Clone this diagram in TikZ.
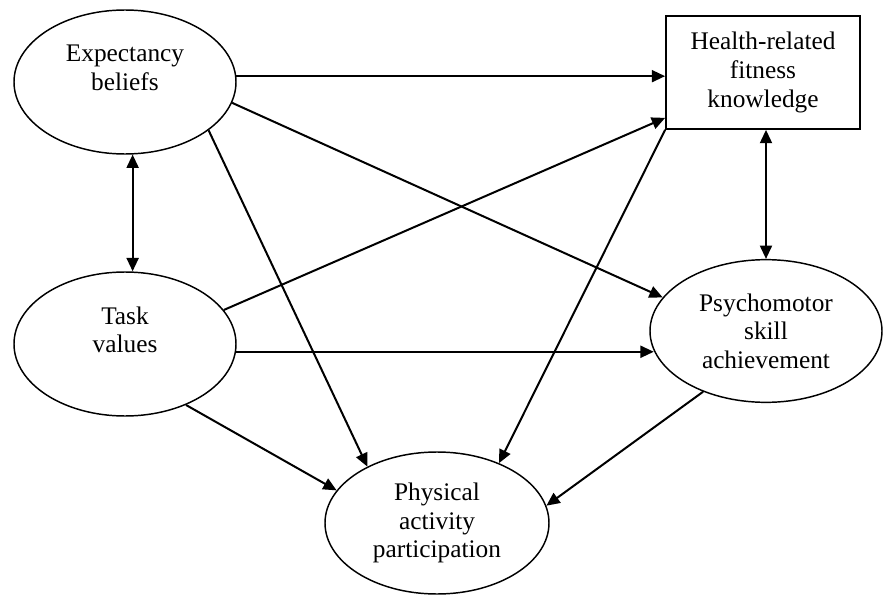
\documentclass[tikz,border=0pt]{standalone}
\usepackage{fontspec}
\setmainfont{Liberation Serif}
\usetikzlibrary{shapes.geometric,arrows.meta}

\begin{document}
\begin{tikzpicture}[x=0.75pt,y=-0.75pt,
  var/.style={ellipse,draw,line width=1.1pt,inner sep=0pt,align=center,
    font=\fontsize{19}{21.5}\selectfont},
  effect/.style={-{Triangle[length=10pt,width=9pt]},line width=1.5pt},
  mutual/.style={{Triangle[length=10pt,width=9pt]}-{Triangle[length=10pt,width=9pt]},line width=1.5pt}]
  \useasboundingbox (0,0) rectangle (883,596);

  \node[var,minimum width=166.5pt,minimum height=108pt] (expect) at (125,82)
    {Expectancy\\beliefs\\~};
  \node[var,minimum width=166.5pt,minimum height=108pt] (task) at (125,344)
    {Task\\values\\~};
  \node[rectangle,draw,line width=1.3pt,minimum width=145.5pt,minimum
  height=84.75pt,align=center,font=\fontsize{19}{21.5}\selectfont] (health) at (763,72.5)
    {Health-related\\fitness\\knowledge};
  \node[var,minimum width=174pt,minimum height=107pt] (psych) at (766,331)
    {Psychomotor\\skill\\achievement};
  \node[var,minimum width=168pt,minimum height=106.5pt] (physical) at (437,523)
    {Physical\\activity\\participation};

  % paths out of expectancy beliefs
  \draw[effect] (expect.3) -- (expect.3 -| health.west);
  \draw[effect] (expect.-11) -- (psych.162);
  \draw[effect] (expect.-30) -- (physical.141);
  \draw[mutual] (expect.-84) -- (expect.-84 |- task.north);

  % paths out of task values
  \draw[effect] (task.19) -- ([yshift=9pt]health.south west);
  \draw[effect] (task.-4) -- (task.-4 -| psych.190);
  \draw[effect] (task.-45) -- (physical.162);

  \draw[effect] (health.south west) -- (physical.44);
  \draw[mutual] (psych.north |- health.south) -- (psych.north);
  \draw[effect] (psych.224) -- (physical.9);

\end{tikzpicture}
\end{document}
